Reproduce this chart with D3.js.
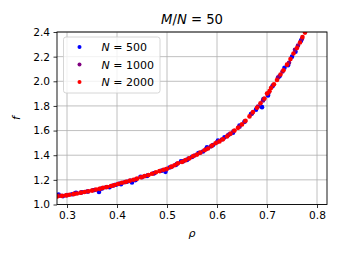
<!DOCTYPE html>
<html>
<head>
<meta charset="utf-8">
<title>M/N = 50</title>
<script src="https://unpkg.com/d3@7.8.2/dist/d3.min.js"></script>
<style>
  body { margin: 0; background: #fff; }
  text { font-family: "DejaVu Sans", sans-serif; }
</style>
</head>
<body>
<div id="chart"></div>
<script>
// [rho, f] pairs
const n500 = [
  [0.283,1.080],[0.292,1.068],[0.310,1.083],[0.318,1.095],[0.330,1.100],[0.342,1.105],
  [0.355,1.118],[0.364,1.102],[0.370,1.130],[0.385,1.140],[0.398,1.160],[0.408,1.165],
  [0.420,1.185],[0.430,1.178],[0.437,1.198],[0.447,1.225],[0.460,1.232],[0.475,1.255],
  [0.490,1.275],[0.497,1.265],[0.505,1.300],[0.518,1.322],[0.528,1.350],[0.540,1.362],
  [0.550,1.385],[0.563,1.418],[0.572,1.430],[0.580,1.465],[0.592,1.482],[0.602,1.520],
  [0.615,1.545],[0.625,1.570],[0.632,1.582],[0.645,1.640],[0.655,1.672],[0.668,1.735],
  [0.678,1.770],[0.690,1.790],[0.693,1.855],[0.702,1.885],[0.711,1.960],[0.725,2.040],
  [0.735,2.110],[0.742,2.130],[0.750,2.200],[0.757,2.240],[0.768,2.330]
];
const n1000 = [
  [0.285,1.072],[0.300,1.076],[0.315,1.088],[0.327,1.095],[0.340,1.106],[0.352,1.116],
  [0.367,1.128],[0.378,1.140],[0.392,1.153],[0.405,1.170],[0.415,1.180],[0.427,1.195],
  [0.438,1.205],[0.450,1.222],[0.462,1.238],[0.473,1.252],[0.487,1.272],[0.498,1.285],
  [0.510,1.308],[0.520,1.330],[0.533,1.352],[0.543,1.372],[0.555,1.398],[0.566,1.420],
  [0.578,1.448],[0.588,1.472],[0.600,1.505],[0.610,1.528],[0.622,1.562],[0.633,1.595],
  [0.645,1.632],[0.656,1.675],[0.670,1.738],[0.682,1.795],[0.692,1.845],[0.703,1.905],
  [0.712,1.968],[0.722,2.030],[0.731,2.080],[0.744,2.150],[0.756,2.255],[0.762,2.290],
  [0.770,2.345]
];
const n2000 = [
  [0.281,1.066],[0.290,1.070],[0.298,1.074],[0.305,1.079],[0.313,1.084],[0.320,1.089],
  [0.328,1.096],[0.335,1.101],[0.343,1.108],[0.350,1.113],[0.358,1.121],[0.365,1.127],
  [0.372,1.135],[0.380,1.142],[0.388,1.150],[0.395,1.158],[0.402,1.166],[0.410,1.176],
  [0.418,1.184],[0.425,1.192],[0.433,1.201],[0.440,1.210],[0.448,1.221],[0.455,1.230],
  [0.463,1.240],[0.470,1.250],[0.478,1.262],[0.485,1.271],[0.493,1.282],[0.500,1.290],
  [0.508,1.305],[0.515,1.318],[0.522,1.335],[0.530,1.345],[0.537,1.360],[0.545,1.375],
  [0.552,1.392],[0.560,1.405],[0.567,1.422],[0.575,1.440],[0.582,1.455],[0.590,1.478],
  [0.597,1.497],[0.605,1.512],[0.612,1.530],[0.620,1.552],[0.627,1.575],[0.635,1.600],
  [0.642,1.622],[0.650,1.650],[0.657,1.680],[0.665,1.715],[0.672,1.750],[0.680,1.785],
  [0.687,1.822],[0.695,1.860],[0.700,1.900],[0.705,1.920],[0.708,1.945],[0.714,1.975],
  [0.720,2.010],[0.727,2.055],[0.733,2.090],[0.740,2.135],[0.747,2.180],[0.753,2.225],
  [0.760,2.270],[0.766,2.315],[0.771,2.360],[0.776,2.395]
];
const seriesNames = ["500", "1000", "2000"];
const seriesColors = ["blue", "purple", "red"];
const xTicks = [0.3, 0.4, 0.5, 0.6, 0.7, 0.8];
const yTicks = [1.0, 1.2, 1.4, 1.6, 1.8, 2.0, 2.2, 2.4];

const W = 340, H = 255;
const pLeft = 57, pRight = 327, pTop = 32, pBottom = 204.5;
const fs = 10.6;

const svg = d3.select("#chart").append("svg")
  .attr("width", W).attr("height", H);

const x = d3.scaleLinear().domain([0.28, 0.82]).range([pLeft, pRight]);
const y = d3.scaleLinear().domain([1.0, 2.4]).range([pBottom, pTop]);

// grid
svg.append("g").selectAll("line").data(xTicks).join("line")
  .attr("x1", d => x(d)).attr("x2", d => x(d))
  .attr("y1", pTop).attr("y2", pBottom)
  .attr("stroke", "#b0b0b0").attr("stroke-width", 0.8);
svg.append("g").selectAll("line").data(yTicks).join("line")
  .attr("x1", pLeft).attr("x2", pRight)
  .attr("y1", d => y(d)).attr("y2", d => y(d))
  .attr("stroke", "#b0b0b0").attr("stroke-width", 0.8);

svg.append("clipPath").attr("id", "clip").append("rect")
  .attr("x", pLeft).attr("y", pTop).attr("width", pRight - pLeft).attr("height", pBottom - pTop);

const pts = svg.append("g").attr("clip-path", "url(#clip)");
[n500, n1000, n2000].forEach((s, i) => {
  pts.append("g").selectAll("circle").data(s).join("circle")
    .attr("cx", d => x(d[0])).attr("cy", d => y(d[1]))
    .attr("r", 2.3).attr("fill", seriesColors[i]);
});

// axes
const xAxis = svg.append("g").attr("transform", `translate(0,${pBottom})`)
  .call(d3.axisBottom(x).tickValues(xTicks).tickSize(3.5).tickPadding(3.5).tickFormat(d3.format(".1f")));
const yAxis = svg.append("g").attr("transform", `translate(${pLeft},0)`)
  .call(d3.axisLeft(y).tickValues(yTicks).tickSize(3.5).tickPadding(3.5).tickFormat(d3.format(".1f")));
[xAxis, yAxis].forEach(a => {
  a.select(".domain").remove();
  a.selectAll("text").attr("font-size", fs).attr("fill", "#000")
    .style("font-family", "DejaVu Sans");
  a.selectAll("line").attr("stroke", "#000").attr("stroke-width", 0.8);
});

// frame
svg.append("rect").attr("x", pLeft).attr("y", pTop)
  .attr("width", pRight - pLeft).attr("height", pBottom - pTop)
  .attr("fill", "none").attr("stroke", "#000").attr("stroke-width", 0.9);

// title
const title = svg.append("text").attr("x", (pLeft + pRight) / 2).attr("y", 24)
  .attr("text-anchor", "middle").attr("font-size", 13.2);
title.append("tspan").attr("font-style", "italic").text("M");
title.append("tspan").text("/");
title.append("tspan").attr("font-style", "italic").text("N");
title.append("tspan").text(" = 50");

svg.append("text").attr("x", (pLeft + pRight) / 2).attr("y", 237)
  .attr("text-anchor", "middle").attr("font-size", 11).attr("font-style", "italic").text("ρ");
svg.append("text").attr("transform", "translate(20,118) rotate(-90)")
  .attr("text-anchor", "middle").attr("font-size", 11).attr("font-style", "italic").text("f");

// legend
const lg = svg.append("g");
lg.append("rect").attr("x", 63.5).attr("y", 37).attr("width", 96.5).attr("height", 56)
  .attr("rx", 2.5).attr("fill", "rgba(255,255,255,0.8)").attr("stroke", "#cccccc").attr("stroke-width", 0.8);
seriesNames.forEach((n, i) => {
  const cy = 47 + i * 17.5;
  lg.append("circle").attr("cx", 79.5).attr("cy", cy).attr("r", 2).attr("fill", seriesColors[i]);
  const t = lg.append("text").attr("x", 101.5).attr("y", cy + 4).attr("font-size", 11);
  t.append("tspan").attr("font-style", "italic").text("N");
  t.append("tspan").text(" = " + n);
});
</script>
</body>
</html>
